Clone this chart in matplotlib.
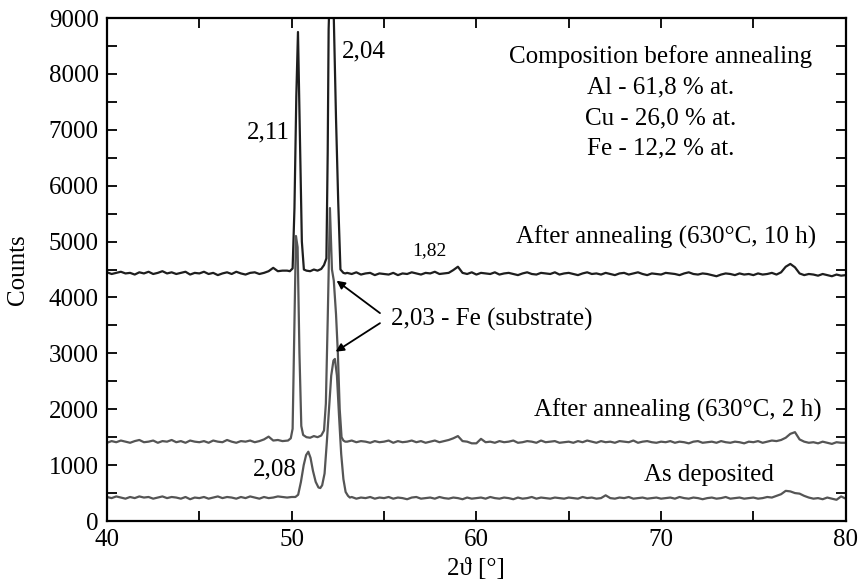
import numpy as np
import matplotlib
matplotlib.use("Agg")
import matplotlib.pyplot as plt
from matplotlib.ticker import MultipleLocator

plt.rcParams['font.family'] = ['Liberation Serif', 'DejaVu Serif']

# 2theta scan grid, 0.25 deg step (baseline), peaks are given separately
GRID_START = 40.0
GRID_STEP = 0.25

# After annealing (630 C, 10 h)
base_10h = [
    4450, 4420, 4440, 4460, 4430, 4440, 4410, 4450, 4430, 4460, 4420, 4440, 4470, 4430, 4450, 4420, 4440, 4460, 4410, 4440,
    4430, 4460, 4420, 4440, 4400, 4430, 4450, 4420, 4460, 4430, 4410, 4440, 4450, 4420, 4440, 4470, 4530, 4470, 4480, 4480,
    4480, 4480, 4480, 4480, 4480, 4480, 4480, 4480, 4480, 4480, 4480, 4480, 4440, 4420, 4450, 4410, 4430, 4440, 4400, 4430,
    4420, 4410, 4440, 4400, 4430, 4420, 4450, 4430, 4410, 4440, 4430, 4460, 4420, 4430, 4440, 4490, 4550, 4440, 4420, 4450,
    4410, 4440, 4430, 4420, 4450, 4410, 4430, 4440, 4420, 4400, 4430, 4450, 4420, 4410, 4440, 4430, 4420, 4450, 4410, 4430,
    4440, 4420, 4400, 4430, 4450, 4420, 4430, 4410, 4440, 4420, 4400, 4430, 4440, 4410, 4430, 4450, 4420, 4400, 4430, 4420,
    4410, 4440, 4430, 4420, 4400, 4430, 4450, 4420, 4410, 4430, 4420, 4400, 4380, 4410, 4430, 4420, 4400, 4430, 4410, 4420,
    4400, 4430, 4410, 4420, 4440, 4410, 4450, 4550, 4600, 4540, 4430, 4400, 4420, 4410, 4390, 4420, 4400, 4380, 4410, 4390,
    4400,
]
peak_x_10h = [49.9, 50.05, 50.15, 50.25, 50.34, 50.45, 50.55, 50.66, 50.8, 51.0, 51.2, 51.4, 51.6, 51.75,
              51.88, 51.95, 52.0, 52.12, 52.26, 52.4, 52.52, 52.64, 52.8, 52.9]
peak_y_10h = [4470, 4520, 5600, 7600, 8750, 6800, 5000, 4500, 4480, 4470, 4500, 4480, 4510, 4580,
              4700, 6600, 8800, 10200, 9300, 7200, 5700, 4500, 4440, 4430]

# After annealing (630 C, 2 h)
base_2h = [
    1400, 1430, 1410, 1440, 1420, 1400, 1430, 1450, 1410, 1420, 1440, 1400, 1430, 1420, 1450, 1410, 1430, 1400, 1440, 1420,
    1410, 1430, 1400, 1440, 1420, 1410, 1450, 1420, 1400, 1430, 1420, 1440, 1410, 1430, 1460, 1510, 1440, 1450, 1430, 1440,
    1500, 1500, 1500, 1500, 1500, 1500, 1500, 1500, 1500, 1500, 1500, 1500, 1420, 1440, 1410, 1430, 1420, 1400, 1430, 1410,
    1420, 1440, 1400, 1430, 1410, 1420, 1440, 1410, 1430, 1400, 1420, 1440, 1410, 1430, 1450, 1480, 1520, 1430, 1420, 1390,
    1390, 1470, 1410, 1420, 1400, 1430, 1410, 1420, 1440, 1400, 1410, 1430, 1420, 1400, 1440, 1410, 1420, 1430, 1400, 1410,
    1420, 1400, 1430, 1410, 1440, 1420, 1400, 1430, 1410, 1420, 1400, 1430, 1420, 1410, 1440, 1400, 1420, 1430, 1410, 1400,
    1420, 1410, 1430, 1400, 1420, 1410, 1390, 1420, 1430, 1400, 1410, 1420, 1400, 1430, 1410, 1400, 1420, 1410, 1390, 1420,
    1410, 1430, 1400, 1420, 1440, 1430, 1450, 1490, 1560, 1590, 1460, 1420, 1400, 1410, 1390, 1420, 1400, 1380, 1410, 1400,
    1400,
]
peak_x_2h = [49.8, 49.95, 50.05, 50.14, 50.23, 50.32, 50.42, 50.52, 50.62, 50.8, 51.0, 51.2, 51.4, 51.6, 51.75,
             51.85, 51.95, 52.07, 52.18, 52.28, 52.4, 52.5, 52.6, 52.7, 52.8, 52.9]
peak_y_2h = [1440, 1480, 1650, 3400, 5100, 4900, 3000, 1700, 1540, 1500, 1490, 1520, 1500, 1530, 1620,
             2100, 3600, 5600, 4500, 4300, 3700, 3000, 2000, 1500, 1440, 1420]

# As deposited
base_dep = [
    430, 410, 440, 420, 400, 430, 410, 440, 420, 430, 400, 420, 440, 410, 430, 420, 400, 430, 390, 420,
    410, 430, 400, 420, 440, 410, 430, 420, 400, 430, 410, 440, 420, 400, 430, 410, 420, 440, 430, 420,
    430, 430, 430, 430, 430, 430, 430, 430, 430, 430, 430, 430, 430, 430, 400, 420, 410, 430, 400, 420,
    410, 430, 400, 420, 410, 390, 420, 430, 400, 410, 420, 400, 430, 410, 400, 420, 410, 390, 420, 400,
    410, 420, 400, 430, 410, 400, 420, 410, 390, 420, 400, 410, 430, 400, 420, 410, 400, 420, 410, 400,
    420, 410, 400, 430, 410, 420, 400, 410, 460, 410, 400, 420, 410, 430, 400, 410, 420, 400, 410, 420,
    400, 410, 420, 400, 430, 410, 400, 420, 410, 390, 410, 420, 400, 410, 430, 400, 410, 420, 400, 410,
    420, 400, 410, 430, 420, 450, 480, 540, 530, 500, 490, 450, 420, 400, 410, 390, 420, 400, 380, 440,
    400,
]
peak_x_dep = [50.2, 50.35, 50.5, 50.65, 50.78, 50.9, 51.02, 51.15, 51.3, 51.45, 51.55, 51.65, 51.78,
              51.9, 52.02, 52.14, 52.26, 52.34, 52.45, 52.56, 52.68, 52.8, 52.92, 53.05, 53.15]
peak_y_dep = [430, 470, 700, 1000, 1180, 1240, 1130, 900, 700, 600, 590, 640, 850,
              1400, 2000, 2600, 2870, 2900, 2600, 1900, 1200, 750, 520, 450, 420]


def build_pattern(base, px, py):
    gx = GRID_START + GRID_STEP * np.arange(len(base))
    gy = np.array(base, dtype=float)
    keep = (gx < px[0]) | (gx > px[-1])
    x = np.concatenate([gx[keep], px])
    y = np.concatenate([gy[keep], py])
    order = np.argsort(x)
    return x[order], y[order]


fig = plt.figure(figsize=(8.63, 5.87), dpi=100)
ax = fig.add_axes([0.124, 0.1124, 0.856, 0.8569])

dark = '#1e1e1e'
grey = '#555555'

x, y = build_pattern(base_dep, peak_x_dep, peak_y_dep)
ax.plot(x, y, color=grey, lw=1.6)
x, y = build_pattern(base_2h, peak_x_2h, peak_y_2h)
ax.plot(x, y, color=grey, lw=1.6)
x, y = build_pattern(base_10h, peak_x_10h, peak_y_10h)
ax.plot(x, y, color=dark, lw=1.6)

fs = 18

ax.set_xlim(40, 80)
ax.set_ylim(0, 9000)
ax.xaxis.set_major_locator(MultipleLocator(10))
ax.xaxis.set_minor_locator(MultipleLocator(5))
ax.yaxis.set_major_locator(MultipleLocator(1000))
ax.yaxis.set_minor_locator(MultipleLocator(500))
ax.tick_params(which='both', direction='in', top=True, right=True, width=1.3, labelsize=fs)
ax.tick_params(which='major', length=7, pad=6)
ax.tick_params(which='minor', length=7)
for s in ax.spines.values():
    s.set_linewidth(1.6)

ax.set_xlabel('2\u03d1 [\u00b0]', fontsize=fs, labelpad=5)
ax.set_ylabel('Counts', fontsize=fs, labelpad=14)

ax.text(52.72, 8410, '2,04', fontsize=fs, ha='left', va='center')
ax.text(49.9, 6950, '2,11', fontsize=fs, ha='right', va='center')
ax.text(50.26, 930, '2,08', fontsize=fs, ha='right', va='center')
ax.text(57.48, 4835, '1,82', fontsize=14, ha='center', va='center')

ax.text(78.4, 5080, 'After annealing (630\u00b0C, 10 h)', fontsize=fs, ha='right', va='center')
ax.text(78.7, 1985, 'After annealing (630\u00b0C, 2 h)', fontsize=fs, ha='right', va='center')
ax.text(72.6, 823, 'As deposited', fontsize=fs, ha='center', va='center')

comp = ['Composition before annealing', 'Al - 61,8 % at.', 'Cu - 26,0 % at.', 'Fe - 12,2 % at.']
comp_y = [8310, 7760, 7210, 6660]
for t, yy in zip(comp, comp_y):
    ax.text(70.0, yy, t, fontsize=fs, ha='center', va='center')

ax.text(55.4, 3610, '2,03 - Fe (substrate)', fontsize=fs, ha='left', va='center')
arrow = dict(arrowstyle='-|>', color='black', lw=1.3, mutation_scale=12, shrinkA=0, shrinkB=0)
ax.annotate('', xy=(52.43, 4300), xytext=(54.78, 3720), arrowprops=arrow)
ax.annotate('', xy=(52.38, 3030), xytext=(54.78, 3540), arrowprops=arrow)

fig.savefig('out.png', dpi=100)
